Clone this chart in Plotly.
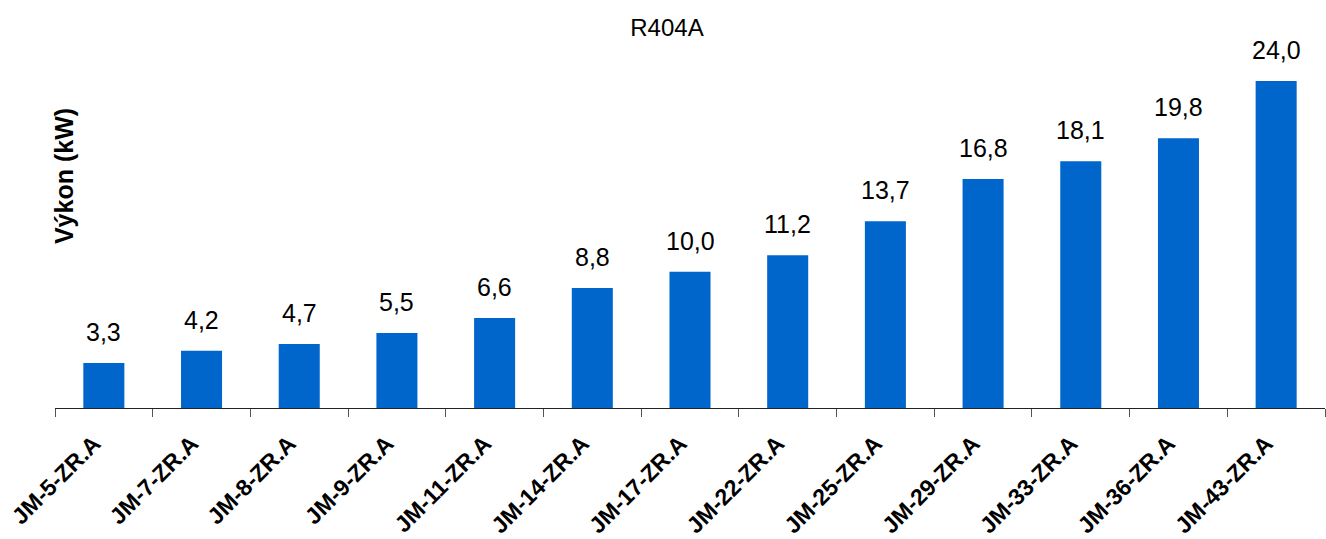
import plotly.graph_objects as go

# Compressor models and their capacity (kW) for R404A
models = ["JM-5-ZR.A", "JM-7-ZR.A", "JM-8-ZR.A", "JM-9-ZR.A", "JM-11-ZR.A",
          "JM-14-ZR.A", "JM-17-ZR.A", "JM-22-ZR.A", "JM-25-ZR.A", "JM-29-ZR.A",
          "JM-33-ZR.A", "JM-36-ZR.A", "JM-43-ZR.A"]
capacity = [3.3, 4.2, 4.7, 5.5, 6.6, 8.8, 10.0, 11.2, 13.7, 16.8, 18.1, 19.8, 24.0]

BAR_COLOR = "#0066CC"
FONT = "Liberation Sans, Arial, sans-serif"

fig = go.Figure(
    go.Bar(x=models, y=capacity, marker_color=BAR_COLOR, marker_line_width=0)
)

# Value labels above each bar, with a decimal comma
for m, v in zip(models, capacity):
    fig.add_annotation(
        x=m, y=v, xref="x", yref="y",
        text=f"{v:.1f}".replace(".", ","),
        showarrow=False, yanchor="bottom", yshift=15,
        font=dict(family=FONT, size=25, color="black"),
    )

# Vertical axis title
fig.add_annotation(
    x=0.007, y=0.63, xref="paper", yref="paper",
    text="<b>Výkon (kW)</b>", textangle=-90, showarrow=False,
    xanchor="center", yanchor="middle",
    font=dict(family=FONT, size=25, color="black"),
)

fig.update_layout(
    width=1326, height=539,
    margin=dict(l=55, r=1, t=40, b=131),
    paper_bgcolor="white", plot_bgcolor="white",
    bargap=0.58,
    showlegend=False,
    title=dict(
        text="R404A", x=0.503, xref="container", xanchor="center",
        y=1 - 28 / 539, yref="container", yanchor="middle",
        font=dict(family=FONT, size=24, color="black"),
    ),
    xaxis=dict(
        showline=True, linecolor="#222222", linewidth=1,
        ticks="outside", tickson="boundaries", ticklen=8,
        tickcolor="#555555", tickwidth=1,
        tickangle=-45, showgrid=False, zeroline=False,
        tickfont=dict(family=FONT, size=23, color="black", weight="bold"),
        ticklabelstandoff=12, ticklabelshift=-10,
    ),
    yaxis=dict(
        range=[0, 27], visible=True, showticklabels=False, showgrid=False,
        zeroline=False, showline=False, ticks="",
    ),
)

fig.write_html("out.html")
